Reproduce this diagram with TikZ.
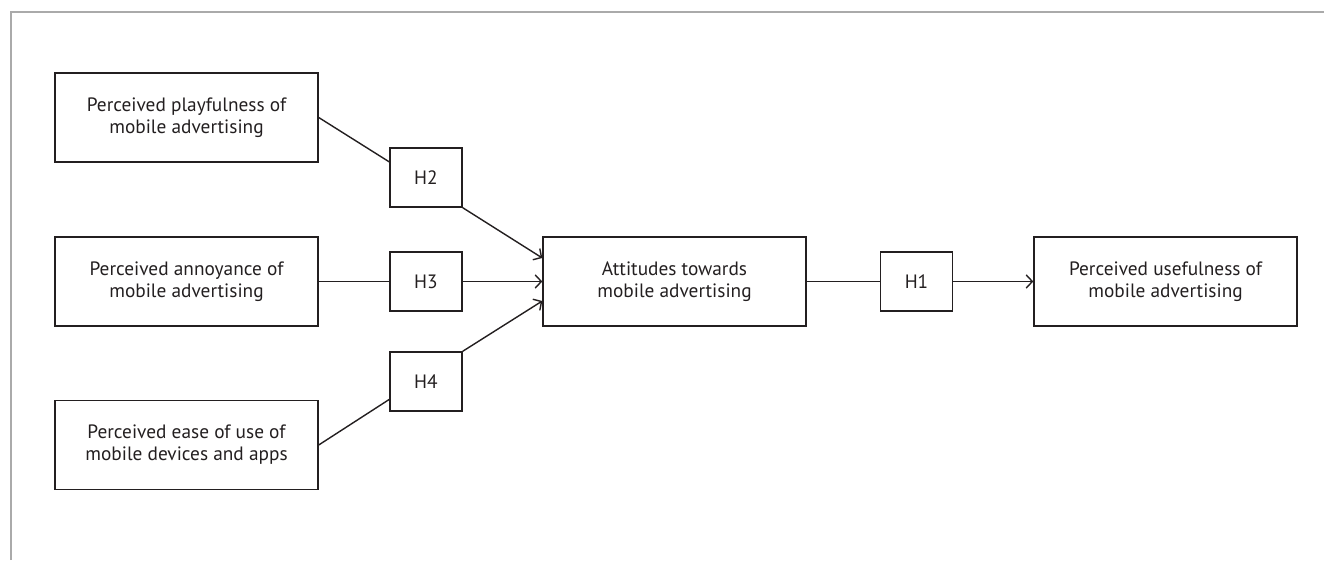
\documentclass[tikz,border=0pt]{standalone}
\usepackage{fontspec}
\setmainfont{PT Sans}
\usetikzlibrary{arrows.meta}
\definecolor{ink}{RGB}{35,31,32}
\definecolor{frame}{RGB}{170,170,170}
\tikzset{
  bigbox/.style={draw=ink,line width=.8pt,minimum width=5.26cm,minimum height=1.78cm,align=center,text=ink,font=\fontsize{11}{12.5}\selectfont},
  hbox/.style={draw=ink,line width=.8pt,minimum width=1.44cm,minimum height=1.18cm,text=ink,font=\fontsize{11}{12.5}\selectfont},
  link/.style={ink,line width=.8pt},
  >={Straight Barb[length=3.5pt,width=7.5pt]}
}
\begin{document}
\begin{tikzpicture}
\useasboundingbox (0,0) rectangle (26.48,11.2);
\draw [frame,line width=1.1pt] (.22,0) -- (.22,10.96) -- (26.48,10.96);
% antecedents
\node [bigbox] (play) at (3.73,8.85) {Perceived playfulness of\\mobile advertising};
\node [bigbox] (annoy) at (3.73,5.57) {Perceived annoyance of\\mobile advertising};
\node [bigbox] (ease) at (3.73,2.3) {Perceived ease of use of\\mobile devices and apps};
% hypotheses
\node [hbox] (h2) at (8.52,7.65) {H2};
\node [hbox] (h3) at (8.52,5.57) {H3};
\node [hbox] (h4) at (8.52,3.57) {H4};
\node [bigbox] (att) at (13.49,5.57) {Attitudes towards\\mobile advertising};
\node [hbox] (h1) at (18.33,5.57) {H1};
\node [bigbox] (useful) at (23.31,5.57) {Perceived usefulness of\\mobile advertising};
% paths
\draw [link] (play.east) -- (h2.157);
\draw [link,->] (h2.south east) -- ([yshift=.47cm]att.west);
\draw [link] (annoy.east) -- (h3.west);
\draw [link,->] (h3.east) -- (att.west);
\draw [link] (ease.east) -- (h4.206);
\draw [link,->] (h4.north east) -- ([yshift=-.39cm]att.west);
\draw [link] (att.east) -- (h1.west);
\draw [link,->] (h1.east) -- (useful.west);
\end{tikzpicture}
\end{document}
